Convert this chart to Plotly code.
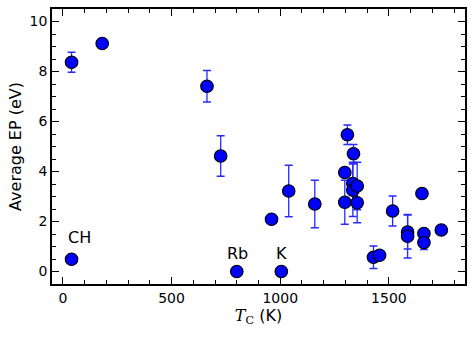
import plotly.graph_objects as go

tc = [40, 40, 181, 663, 726, 800, 1005, 960, 1039, 1159, 1297, 1297, 1309, 1337,
      1334, 1334, 1354, 1354, 1429, 1457, 1517, 1586, 1586, 1652, 1661, 1661, 1741]
ep = [0.49, 8.37, 9.12, 7.41, 4.62, 0.0, 0.0, 2.09, 3.22, 2.70, 3.96, 2.77, 5.47, 4.71,
      3.52, 3.25, 3.42, 2.75, 0.57, 0.65, 2.42, 1.58, 1.41, 3.12, 1.52, 1.16, 1.66]
ep_err = [0, 0.40, 0, 0.63, 0.81, 0, 0, 0, 1.03, 0.95, 0, 0.88, 0.39, 0.37,
          0.85, 1.05, 0.95, 0.80, 0.45, 0, 0.60, 0.68, 0.87, 0, 0, 0.28, 0]

label_text = ["CH", "Rb", "K"]
label_x = [78, 803, 1008]
label_y = [1.38, 0.72, 0.72]

x_ticks = [0, 500, 1000, 1500]
y_ticks = [0, 2, 4, 6, 8, 10]

FONT = "DejaVu Sans"

fig = go.Figure()
fig.add_trace(go.Scatter(
    x=tc, y=ep, mode="markers",
    marker=dict(color="#0000ff", size=12.5, line=dict(color="black", width=1.2)),
    error_y=dict(type="data", array=ep_err, visible=True, color="#2a2aff",
                 thickness=1.3, width=4),
    showlegend=False,
))

for t, x, y in zip(label_text, label_x, label_y):
    fig.add_annotation(x=x, y=y, text=t, showarrow=False,
                       font=dict(family=FONT, size=16, color="black"))

axis_common = dict(
    showgrid=False, zeroline=False, showline=True, linecolor="black", linewidth=1.5,
    mirror="allticks", ticks="inside", ticklen=7, tickwidth=1.2, tickcolor="black",
    tickfont=dict(family=FONT, size=14, color="black"), automargin=False,
)

fig.update_xaxes(
    range=[-50, 1850], tickvals=x_ticks,
    minor=dict(dtick=100, ticks="inside", ticklen=4, tickwidth=1, tickcolor="black", showgrid=False),
    title=dict(text="<span style='font-family:DejaVu Serif'><i>T</i><sub>C</sub></span> (K)",
               font=dict(family=FONT, size=16, color="black"), standoff=4),
    **axis_common,
)
fig.update_yaxes(
    range=[-0.5, 10.5], tickvals=y_ticks,
    minor=dict(dtick=0.5, ticks="inside", ticklen=4, tickwidth=1, tickcolor="black", showgrid=False),
    title=dict(text="Average EP (eV)", font=dict(family=FONT, size=16, color="black"), standoff=4),
    **axis_common,
)

fig.update_layout(
    width=474, height=337,
    margin=dict(l=52, r=9, t=9, b=53),
    plot_bgcolor="white", paper_bgcolor="white",
    font=dict(family=FONT, color="black"),
)

fig.write_html("out.html", config={"displayModeBar": False},
               post_script="document.body.style.margin='0px';document.body.style.overflow='hidden';")
